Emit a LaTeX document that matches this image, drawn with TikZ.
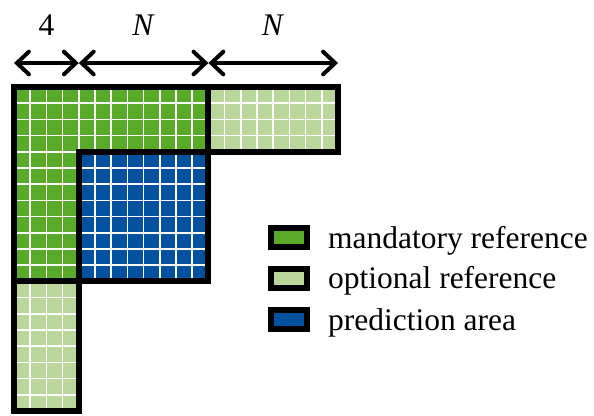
\documentclass[tikz,border=0pt]{standalone}
\usepackage{fontspec}
\setmainfont{Liberation Serif}
\usetikzlibrary{arrows.meta}
\definecolor{mgreen}{RGB}{90,170,42}
\definecolor{lgreen}{RGB}{187,214,155}
\definecolor{pblue}{RGB}{0,82,158}
\tikzset{
  border/.style={line width=4.5pt, line join=miter, line cap=rect},
  gridline/.style={white, line width=1.1pt},
  cmtip/.tip={Straight Barb[length=9pt,width=17pt,line width=3pt, line cap=round]},
  dimarrow/.style={line width=3pt, cmtip-cmtip},
  dimlabel/.style={font=\fontsize{23.6}{28}\selectfont, inner sep=0pt},
  legbox/.style={draw=black, line width=4.5pt, minimum width=27pt, minimum height=14.25pt, inner sep=0pt},
  legtext/.style={font=\fontsize{23.6}{28}\selectfont, inner sep=0pt, anchor=base west}
}
\begin{document}
\begin{tikzpicture}[x=12.15pt, y=-12.15pt]
\useasboundingbox (-0.864,-5.37) rectangle (35.80,20.25);
% fills
\fill[mgreen] (0,0) rectangle (12,4);
\fill[mgreen] (0,4) rectangle (4,12);
\fill[lgreen] (12,0) rectangle (20,4);
\fill[lgreen] (0,12) rectangle (4,20);
\fill[pblue] (4,4) rectangle (12,12);
% grid
\foreach \i in {1,...,19} {\draw[gridline] (\i,0) -- (\i,4);}
\foreach \j in {1,...,3} {\draw[gridline] (0,\j) -- (20,\j);}
\foreach \j in {4,...,19} {\draw[gridline] (0,\j) -- (4,\j);}
\foreach \i in {1,...,3} {\draw[gridline] (\i,4) -- (\i,20);}
\foreach \i in {5,...,11} {\draw[gridline] (\i,4) -- (\i,12);}
\foreach \j in {5,...,11} {\draw[gridline] (4,\j) -- (12,\j);}
% borders
\draw[border] (0,0) -- (20,0) -- (20,4) -- (12,4) -- (12,12) -- (4,12) -- (4,20) -- (0,20) -- cycle;
\draw[border] (4,12) -- (4,4) -- (12,4);
\draw[border] (12,0) -- (12,4);
\draw[border] (0,12) -- (4,12);
% dimension arrows
\coordinate (a0) at (0,-1.48);
\coordinate (a1) at (4,-1.48);
\coordinate (a2) at (12,-1.48);
\coordinate (a3) at (20,-1.48);
\draw[dimarrow] (a0) -- (a1);
\draw[dimarrow] (a1) -- (a2);
\draw[dimarrow] (a2) -- (a3);
\node[dimlabel] (l4) at (2,-3.83) {4};
\node[dimlabel] (lN1) at (8,-3.83) {\textit{N}};
\node[dimlabel] (lN2) at (16,-3.83) {\textit{N}};
% legend
\node[legbox, fill=mgreen] (b1) at (16.97,9.29) {};
\node[legbox, fill=lgreen] (b2) at (16.97,11.79) {};
\node[legbox, fill=pblue] (b3) at (16.97,14.38) {};
\node[legtext] (t1) at (19.38,9.95) {mandatory reference};
\node[legtext] (t2) at (19.38,12.45) {optional reference};
\node[legtext] (t3) at (19.38,15.04) {prediction area};
\end{tikzpicture}
\end{document}
